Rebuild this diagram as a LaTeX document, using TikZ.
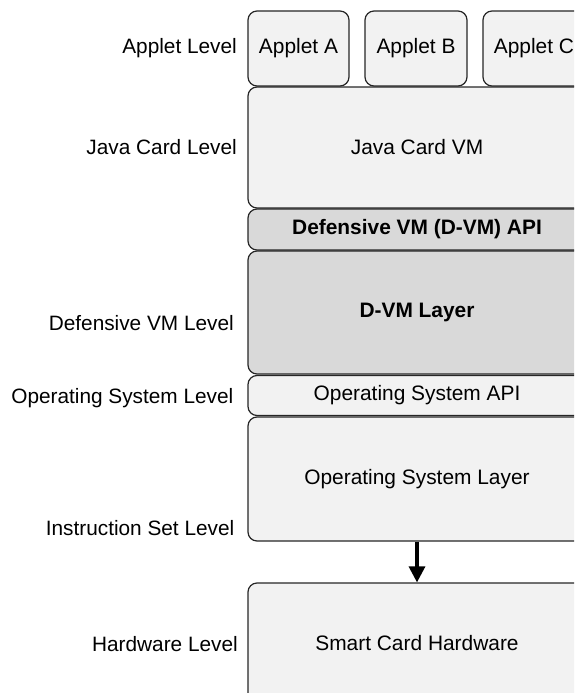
\documentclass[tikz,border=0pt]{standalone}
\usepackage{fontspec}
\setmainfont{Liberation Sans}
\usetikzlibrary{arrows.meta}
\begin{document}
\begin{tikzpicture}[x=1pt,y=-1pt,
  layer/.style={draw=black!85, line width=1.2pt, rounded corners=9pt, fill=#1, inner sep=0pt,
    font=\fontsize{20.9}{25}\selectfont, text=black},
  layer/.default={black!5},
  lvl/.style={anchor=east, inner sep=0pt, font=\fontsize{20.8}{25}\selectfont},
  conn/.style={line width=3.2pt, -{Triangle[length=16pt,width=16pt]}}]
\useasboundingbox (0,0) rectangle (574,693);
\clip (0,0) rectangle (574,693);
% labels
\node[lvl] (l1) at (237,48) {Applet Level};
\node[lvl] (l2) at (237,147) {Java Card Level};
\node[lvl] (l3) at (234,323) {Defensive VM Level};
\node[lvl] (l4) at (233.5,398) {Operating System Level};
\node[lvl] (l5) at (234.5,528) {Instruction Set Level};
\node[lvl] (l6) at (238,644) {Hardware Level};
% applets
\node[layer, minimum width=101pt, minimum height=75pt] (aa) at (298.5,48.5) {Applet A};
\node[layer, minimum width=102pt, minimum height=75pt] (ab) at (416,48.5) {Applet B};
\node[layer, minimum width=102pt, minimum height=75pt] (ac) at (534,48.5) {Applet C};
% layers
\node[layer, minimum width=338pt, minimum height=121pt] (jc) at (417,147.5) {Java Card VM};
\node[layer=black!15, minimum width=338pt, minimum height=41pt, font=\fontsize{20.9}{25}\selectfont\bfseries] (dapi) at (417,229.5) {Defensive VM (D-VM) API};
\node[layer=black!15, minimum width=338pt, minimum height=123pt, font=\fontsize{20.9}{25}\selectfont\bfseries] (dvm) at (417,312.5) {D-VM Layer};
\node[layer, minimum width=338pt, minimum height=40pt] (osapi) at (417,395.5) {Operating System API};
\node[layer, minimum width=338pt, minimum height=124pt] (os) at (417,479) {Operating System Layer};
\node[layer, minimum width=338pt, minimum height=120pt] (hw) at (417,643) {Smart Card Hardware};
\draw[conn] (os.south) -- (hw.north);
\end{tikzpicture}
\end{document}
